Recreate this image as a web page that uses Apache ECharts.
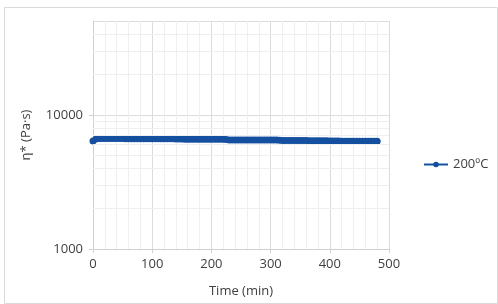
<!DOCTYPE html>
<html>
<head>
<meta charset="UTF-8">
<title>200ºC viscosity</title>
<script type="text/javascript" src="https://cdn.jsdelivr.net/npm/echarts@6/dist/echarts.min.js"></script>
<style>
  body{margin:0;background:#fff}
</style>
</head>
<body>
<div id="main" style="width:498px;height:304px"></div>
<script type="text/javascript">
// time (min), every 5 min
var times = [0,5,10,15,20,25,30,35,40,45,50,55,60,65,70,75,80,85,90,95,
  100,105,110,115,120,125,130,135,140,145,150,155,160,165,170,175,180,185,190,195,
  200,205,210,215,220,225,230,235,240,245,250,255,260,265,270,275,280,285,290,295,
  300,305,310,315,320,325,330,335,340,345,350,355,360,365,370,375,380,385,390,395,
  400,405,410,415,420,425,430,435,440,445,450,455,460,465,470,475,480];
// η* (Pa·s)
var eta = [6380,6600,6650,6660,6660,6660,6650,6650,6650,6650,6650,6640,6640,6640,6640,6640,6640,6630,6630,6630,
  6630,6630,6630,6620,6620,6620,6620,6620,6590,6590,6590,6580,6580,6580,6580,6570,6570,6570,6570,6570,
  6560,6560,6560,6560,6560,6550,6500,6500,6500,6500,6500,6490,6490,6490,6490,6490,6490,6480,6480,6480,
  6480,6480,6480,6470,6440,6440,6440,6440,6430,6430,6430,6430,6430,6420,6420,6420,6420,6420,6410,6410,
  6370,6370,6370,6370,6360,6360,6360,6360,6360,6350,6350,6350,6350,6350,6340,6340,6340];
var seriesName = '200ºC';
// minor log gridlines
var minorY = [2000,3000,4000,5000,6000,7000,8000,9000,20000,30000,40000];

var font = 'Open Sans';
var myChart = echarts.init(document.getElementById('main'));

var option = {
  animation: false,
  textStyle: {fontFamily: font},
  graphic: [{
    type: 'rect',
    left: 2, top: 5,
    shape: {width: 493, height: 296},
    style: {fill: 'none', stroke: '#d9d9d9', lineWidth: 1},
    silent: true
  }],
  grid: {left: 93, right: 109, top: 21, bottom: 55},
  legend: {
    data: [seriesName],
    left: 418, top: 153,
    itemWidth: 24, itemHeight: 7, itemGap: 3,
    textStyle: {fontFamily: font, fontSize: 13, color: '#404040'}
  },
  xAxis: {
    type: 'value',
    min: 0, max: 500, interval: 100,
    name: 'Time (min)',
    nameLocation: 'middle',
    nameGap: 36,
    nameTextStyle: {fontFamily: font, fontSize: 13, color: '#404040'},
    axisLine: {show: true, lineStyle: {color: '#d0d0d0'}},
    axisTick: {show: true, length: 4, lineStyle: {color: '#d0d0d0'}},
    axisLabel: {fontFamily: font, fontSize: 13, color: '#404040', margin: 9},
    splitLine: {show: true, lineStyle: {color: '#dcdcdc'}},
    minorTick: {show: false, splitNumber: 5},
    minorSplitLine: {show: true, lineStyle: {color: '#efefef'}}
  },
  yAxis: {
    type: 'log',
    logBase: 10,
    min: 1000, max: 50000,
    name: 'η* (Pa·s)',
    nameLocation: 'middle',
    nameGap: 60,
    nameTextStyle: {fontFamily: font, fontSize: 13, color: '#404040'},
    axisLine: {show: true, lineStyle: {color: '#d0d0d0'}},
    axisTick: {show: true, length: 4, lineStyle: {color: '#d0d0d0'}},
    axisLabel: {
      fontFamily: font, fontSize: 13, color: '#404040', margin: 10,
      showMaxLabel: false,
      formatter: function (v) { return v; }
    },
    splitLine: {show: true, lineStyle: {color: '#dcdcdc'}}
  },
  series: [
    {
      name: 'grid-minor',
      type: 'line',
      data: [],
      z: 1,
      silent: true,
      markLine: {
        silent: true,
        symbol: 'none',
        label: {show: false},
        lineStyle: {type: 'solid', color: '#efefef', width: 1},
        data: minorY.map(function (v) { return {yAxis: v}; })
      }
    },
    {
      name: seriesName,
      type: 'line',
      z: 3,
      data: times.map(function (t, i) { return [t, eta[i]]; }),
      symbol: 'circle',
      symbolSize: 7,
      showSymbol: true,
      color: '#1550a0',
      lineStyle: {width: 4, color: '#1550a0'},
      itemStyle: {color: '#1550a0'}
    }
  ]
};

myChart.setOption(option);
</script>
</body>
</html>
